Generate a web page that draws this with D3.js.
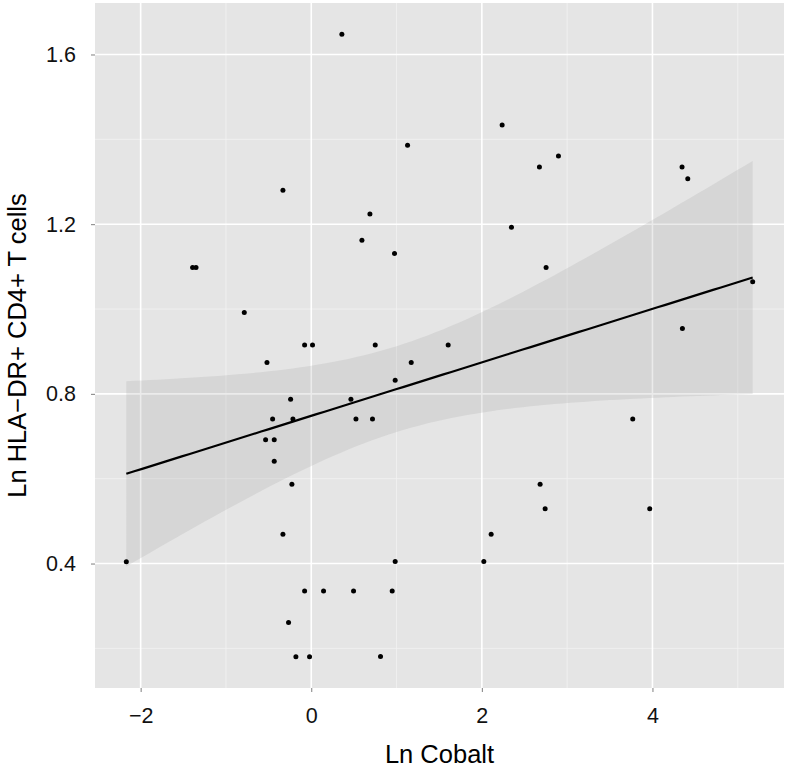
<!DOCTYPE html>
<meta charset="utf-8">
<style>
  body { margin: 0; background: #fff; }
  svg { display: block; font-family: "Liberation Sans", Arial, Helvetica, sans-serif; }
  .axis path { display: none; }
  .axis line { stroke: #7f7f7f; }
  .axis text { fill: #111; font-size: 21.5px; }
  .title { fill: #000; font-size: 25.5px; }
</style>
<svg width="786" height="769"></svg>

<script src="https://cdn.jsdelivr.net/npm/d3@7"></script>
<script>

// Ln Cobalt (x) and Ln HLA-DR+ CD4+ T cells (y)
var lnCobalt = [
  -2.168, -1.391, -1.351, -0.785, -0.535, -0.519, -0.453, -0.434, -0.434, -0.332,
  -0.332, -0.266, -0.242, -0.227, -0.215, -0.180, -0.078, -0.078, -0.020,  0.015,
   0.144,  0.359,  0.465,  0.496,  0.524,  0.594,  0.688,  0.718,  0.750,  0.812,
   0.949,  0.976,  0.984,  0.984,  1.129,  1.172,  1.605,  2.023,  2.109,  2.238,
   2.347,  2.675,  2.683,  2.742,  2.753,  2.898,  3.769,  3.968,  4.347,  4.351,
   4.414,  5.175
];
var lnHlaDr = [
   0.404,  1.098,  1.098,  0.992,  0.692,  0.874,  0.741,  0.692,  0.641,  1.280,
   0.469,  0.261,  0.787,  0.587,  0.741,  0.180,  0.915,  0.335,  0.180,  0.915,
   0.335,  1.648,  0.787,  0.335,  0.741,  1.162,  1.224,  0.741,  0.915,  0.181,
   0.335,  1.131,  0.832,  0.405,  1.386,  0.874,  0.915,  0.405,  0.469,  1.434,
   1.193,  1.335,  0.587,  0.529,  1.098,  1.361,  0.741,  0.529,  1.335,  0.954,
   1.307,  1.064
];

var xMajor = [-2, 0, 2, 4],
    xMinor = [-1, 1, 3, 5],
    yMajor = [0.4, 0.8, 1.2, 1.6],
    yMinor = [0.2, 0.6, 1.0, 1.4];

var svg = d3.select("svg"),
    margin = {top: 3, right: 2, bottom: 81, left: 95},
    width = +svg.attr("width") - margin.left - margin.right,
    height = +svg.attr("height") - margin.top - margin.bottom,
    g = svg.append("g").attr("transform", "translate(" + margin.left + "," + margin.top + ")");

var data = lnCobalt.map(function(x, i) { return {x: x, y: lnHlaDr[i]}; });

// ggplot-like 5% expansion of the data range
function expand(ext) {
  var pad = (ext[1] - ext[0]) * 0.05;
  return [ext[0] - pad, ext[1] + pad];
}

var x = d3.scaleLinear().domain(expand(d3.extent(lnCobalt))).range([0, width]);
var y = d3.scaleLinear().domain(expand(d3.extent(lnHlaDr))).range([height, 0]);

/*
 * Linear fit with 95% confidence band.
 */
var n = data.length,
    mx = d3.mean(lnCobalt),
    my = d3.mean(lnHlaDr),
    sxx = d3.sum(lnCobalt, function(v) { return (v - mx) * (v - mx); }),
    sxy = d3.sum(data, function(d) { return (d.x - mx) * (d.y - my); }),
    slope = sxy / sxx,
    icpt = my - slope * mx,
    sse = d3.sum(data, function(d) { var r = d.y - (icpt + slope * d.x); return r * r; }),
    s = Math.sqrt(sse / (n - 2)),
    tq = 2.0086; // t(0.975, df = 50)

var xr = d3.extent(lnCobalt);
var fit = d3.range(80).map(function(i) {
  var xv = xr[0] + (xr[1] - xr[0]) * i / 79,
      yv = icpt + slope * xv,
      se = s * Math.sqrt(1 / n + (xv - mx) * (xv - mx) / sxx);
  return {x: xv, y: yv, lo: yv - tq * se, hi: yv + tq * se};
});

// panel
g.append("rect")
    .attr("width", width)
    .attr("height", height)
    .attr("fill", "#e5e5e5");

g.selectAll(".vminor").data(xMinor).enter().append("line")
    .attr("x1", x).attr("x2", x).attr("y1", 0).attr("y2", height)
    .attr("stroke", "#f2f2f2").attr("stroke-width", 0.8);
g.selectAll(".hminor").data(yMinor).enter().append("line")
    .attr("y1", y).attr("y2", y).attr("x1", 0).attr("x2", width)
    .attr("stroke", "#f2f2f2").attr("stroke-width", 0.8);
g.selectAll(".vmajor").data(xMajor).enter().append("line")
    .attr("x1", x).attr("x2", x).attr("y1", 0).attr("y2", height)
    .attr("stroke", "#fff").attr("stroke-width", 1.6);
g.selectAll(".hmajor").data(yMajor).enter().append("line")
    .attr("y1", y).attr("y2", y).attr("x1", 0).attr("x2", width)
    .attr("stroke", "#fff").attr("stroke-width", 1.6);

// confidence band + fit line
g.append("path")
    .datum(fit)
    .attr("fill", "#999")
    .attr("fill-opacity", 0.2)
    .attr("d", d3.area()
      .x(function(d) { return x(d.x); })
      .y0(function(d) { return y(d.lo); })
      .y1(function(d) { return y(d.hi); }));

g.selectAll(".dot")
    .data(data)
    .enter().append("circle")
      .attr("class", "dot")
      .attr("cx", function(d) { return x(d.x); })
      .attr("cy", function(d) { return y(d.y); })
      .attr("r", 2.5)
      .attr("fill", "#000");

g.append("path")
    .datum(fit)
    .attr("fill", "none")
    .attr("stroke", "#000")
    .attr("stroke-width", 2.2)
    .attr("d", d3.line()
      .x(function(d) { return x(d.x); })
      .y(function(d) { return y(d.y); }));

// axes
g.append("g")
    .attr("class", "axis")
    .attr("transform", "translate(0," + height + ")")
    .call(d3.axisBottom(x).tickValues(xMajor).tickSize(4).tickPadding(16).tickFormat(d3.format("d")));

g.append("g")
    .attr("class", "axis")
    .call(d3.axisLeft(y).tickValues(yMajor).tickSize(4).tickPadding(15).tickFormat(d3.format(".1f")));

svg.append("text")
    .attr("class", "title")
    .attr("text-anchor", "middle")
    .attr("x", margin.left + width / 2)
    .attr("y", 763)
    .text("Ln Cobalt");

svg.append("text")
    .attr("class", "title")
    .attr("text-anchor", "middle")
    .attr("transform", "translate(25.5," + (margin.top + height / 2) + ")rotate(-90)")
    .text("Ln HLA\u2212DR+ CD4+ T cells");
</script>
